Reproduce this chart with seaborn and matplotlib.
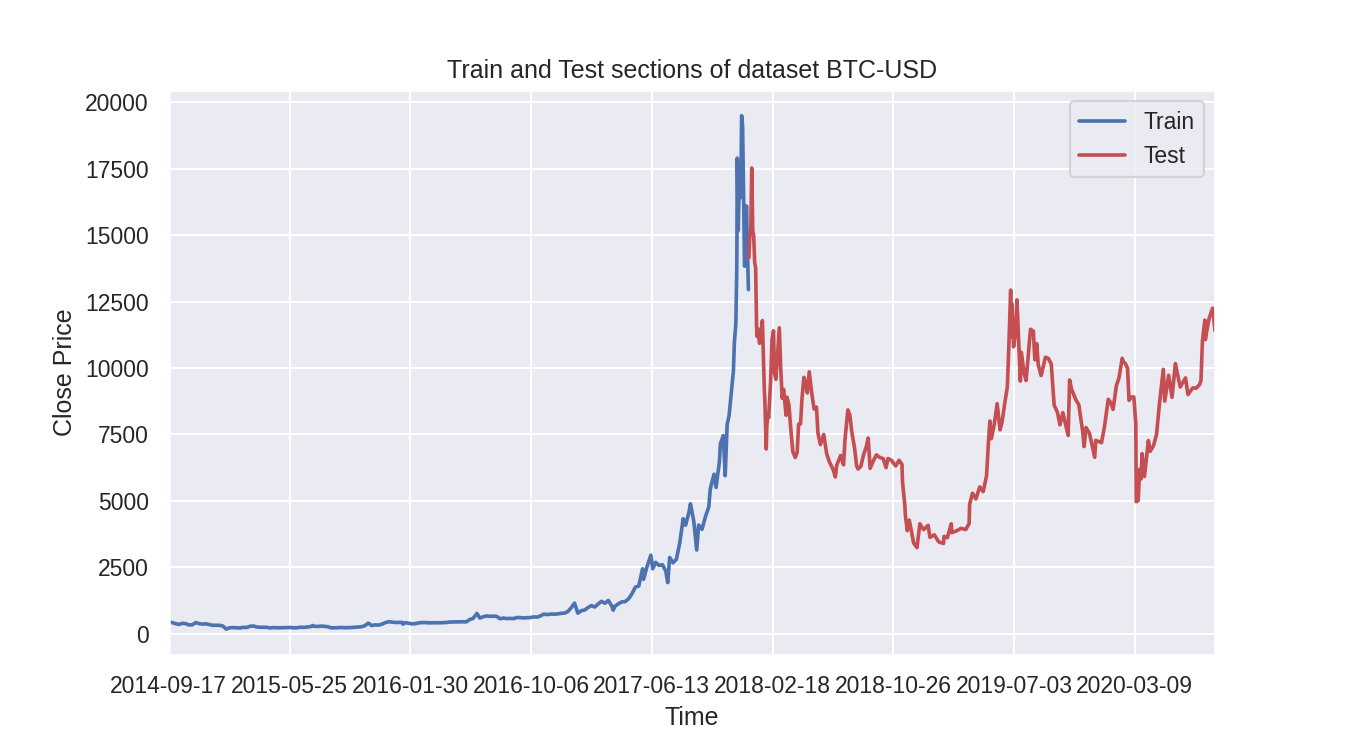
import pandas as pd
import matplotlib
matplotlib.use("Agg")
import matplotlib.pyplot as plt
import seaborn as sns

# Train section
train_dates = [
    "2014-09-17", "2014-09-24", "2014-10-01", "2014-10-08", "2014-10-15", "2014-10-22", "2014-10-29",
    "2014-11-05", "2014-11-12", "2014-11-19", "2014-11-26", "2014-12-03", "2014-12-10", "2014-12-17",
    "2014-12-24", "2014-12-31", "2015-01-07", "2015-01-14", "2015-01-21", "2015-01-28", "2015-02-04",
    "2015-02-11", "2015-02-18", "2015-02-25", "2015-03-04", "2015-03-11", "2015-03-18", "2015-03-25",
    "2015-04-01", "2015-04-08", "2015-04-15", "2015-04-22", "2015-04-29", "2015-05-06", "2015-05-13",
    "2015-05-20", "2015-05-27", "2015-06-03", "2015-06-10", "2015-06-17", "2015-06-24", "2015-07-01",
    "2015-07-08", "2015-07-12", "2015-07-15", "2015-07-22", "2015-07-29", "2015-08-05", "2015-08-12",
    "2015-08-19", "2015-08-26", "2015-09-02", "2015-09-09", "2015-09-16", "2015-09-23", "2015-09-30",
    "2015-10-07", "2015-10-14", "2015-10-21", "2015-10-28", "2015-11-04", "2015-11-11", "2015-11-18",
    "2015-11-25", "2015-12-02", "2015-12-09", "2015-12-16", "2015-12-23", "2015-12-30", "2016-01-06",
    "2016-01-13", "2016-01-15", "2016-01-20", "2016-01-27", "2016-02-03", "2016-02-10", "2016-02-17",
    "2016-02-24", "2016-03-02", "2016-03-09", "2016-03-16", "2016-03-23", "2016-03-30", "2016-04-06",
    "2016-04-13", "2016-04-20", "2016-04-27", "2016-05-04", "2016-05-11", "2016-05-18", "2016-05-25",
    "2016-06-01", "2016-06-08", "2016-06-16", "2016-06-22", "2016-06-29", "2016-07-06", "2016-07-13",
    "2016-07-20", "2016-07-27", "2016-08-03", "2016-08-10", "2016-08-17", "2016-08-24", "2016-08-31",
    "2016-09-07", "2016-09-14", "2016-09-21", "2016-09-28", "2016-10-05", "2016-10-12", "2016-10-19",
    "2016-10-26", "2016-11-02", "2016-11-09", "2016-11-16", "2016-11-23", "2016-11-30", "2016-12-07",
    "2016-12-14", "2016-12-21", "2016-12-28", "2017-01-04", "2017-01-11", "2017-01-18", "2017-01-25",
    "2017-02-01", "2017-02-08", "2017-02-15", "2017-02-22", "2017-03-01", "2017-03-08", "2017-03-15",
    "2017-03-22", "2017-03-25", "2017-03-29", "2017-04-05", "2017-04-12", "2017-04-19", "2017-04-26",
    "2017-05-03", "2017-05-10", "2017-05-17", "2017-05-25", "2017-05-27", "2017-06-03", "2017-06-11",
    "2017-06-15", "2017-06-21", "2017-06-28", "2017-07-05", "2017-07-12", "2017-07-16", "2017-07-20",
    "2017-07-27", "2017-08-03", "2017-08-10", "2017-08-17", "2017-08-22", "2017-08-29", "2017-09-01",
    "2017-09-08", "2017-09-14", "2017-09-18", "2017-09-25", "2017-10-02", "2017-10-09", "2017-10-12",
    "2017-10-16", "2017-10-20", "2017-10-24", "2017-10-31", "2017-11-02", "2017-11-08", "2017-11-12",
    "2017-11-16", "2017-11-20", "2017-11-26", "2017-11-29", "2017-12-01", "2017-12-04", "2017-12-06",
    "2017-12-07", "2017-12-08", "2017-12-09", "2017-12-11", "2017-12-12", "2017-12-13", "2017-12-15",
    "2017-12-16", "2017-12-18", "2017-12-20", "2017-12-22", "2017-12-24", "2017-12-26", "2017-12-28",
    "2017-12-30",
]
train_close = [
    457, 423, 383, 353, 394, 382, 335,
    339, 423, 380, 367, 376, 346, 319,
    322, 320, 294, 178, 228, 233, 227,
    219, 243, 237, 281, 296, 256, 247,
    247, 245, 219, 235, 225, 229, 236,
    234, 237, 225, 229, 248, 241, 258,
    269, 311, 285, 277, 289, 282, 267,
    226, 225, 229, 238, 229, 231, 236,
    246, 253, 266, 304, 403, 311, 335,
    328, 359, 417, 455, 442, 426, 431,
    432, 364, 419, 395, 373, 381, 416,
    423, 423, 412, 416, 418, 412, 422,
    424, 441, 446, 446, 450, 453, 449,
    536, 581, 766, 592, 640, 671, 658,
    665, 655, 567, 592, 573, 580, 573,
    614, 609, 597, 605, 612, 636, 629,
    678, 742, 722, 744, 740, 746, 770,
    778, 834, 976, 1154, 777, 870, 894,
    989, 1061, 1008, 1125, 1222, 1150, 1255,
    1050, 891, 1040, 1132, 1202, 1213, 1318,
    1507, 1756, 1800, 2446, 2052, 2519, 2958,
    2448, 2690, 2573, 2601, 2359, 1929, 2871,
    2671, 2809, 3430, 4331, 4088, 4579, 4892,
    4226, 3154, 4093, 3931, 4403, 4773, 5431,
    5739, 6006, 5505, 6468, 7144, 7459, 5950,
    7871, 8201, 9330, 9888, 10975, 11657, 13750,
    17900, 16570, 15178, 16937, 17415, 16408, 17707,
    19497, 19114, 16624, 13831, 13926, 16099, 14606,
    12952,
]

# Test section
test_dates = [
    "2017-12-31", "2018-01-02", "2018-01-04", "2018-01-06", "2018-01-08", "2018-01-10", "2018-01-12",
    "2018-01-14", "2018-01-16", "2018-01-17", "2018-01-19", "2018-01-22", "2018-01-25", "2018-01-28",
    "2018-02-01", "2018-02-02", "2018-02-05", "2018-02-06", "2018-02-08", "2018-02-10", "2018-02-14",
    "2018-02-17", "2018-02-20", "2018-02-22", "2018-02-25", "2018-03-04", "2018-03-07", "2018-03-10",
    "2018-03-13", "2018-03-18", "2018-03-20", "2018-03-24", "2018-03-27", "2018-04-01", "2018-04-06",
    "2018-04-10", "2018-04-13", "2018-04-17", "2018-04-20", "2018-04-24", "2018-04-28", "2018-05-01",
    "2018-05-05", "2018-05-10", "2018-05-15", "2018-05-20", "2018-05-23", "2018-05-28", "2018-06-04",
    "2018-06-10", "2018-06-15", "2018-06-24", "2018-06-28", "2018-07-01", "2018-07-09", "2018-07-15",
    "2018-07-18", "2018-07-24", "2018-07-28", "2018-08-01", "2018-08-07", "2018-08-11", "2018-08-14",
    "2018-08-20", "2018-08-25", "2018-08-31", "2018-09-04", "2018-09-08", "2018-09-15", "2018-09-21",
    "2018-09-28", "2018-10-05", "2018-10-11", "2018-10-15", "2018-10-22", "2018-10-31", "2018-11-07",
    "2018-11-13", "2018-11-14", "2018-11-19", "2018-11-20", "2018-11-24", "2018-11-25", "2018-11-28",
    "2018-12-03", "2018-12-07", "2018-12-14", "2018-12-20", "2018-12-24", "2018-12-28", "2019-01-06",
    "2019-01-10", "2019-01-19", "2019-01-28", "2019-02-07", "2019-02-08", "2019-02-15", "2019-02-23",
    "2019-02-24", "2019-03-06", "2019-03-15", "2019-03-25", "2019-04-01", "2019-04-02", "2019-04-08",
    "2019-04-15", "2019-04-23", "2019-04-30", "2019-05-07", "2019-05-11", "2019-05-14", "2019-05-17",
    "2019-05-23", "2019-05-29", "2019-06-04", "2019-06-08", "2019-06-15", "2019-06-19", "2019-06-22",
    "2019-06-26", "2019-06-27", "2019-06-29", "2019-07-02", "2019-07-07", "2019-07-09", "2019-07-16",
    "2019-07-18", "2019-07-24", "2019-07-28", "2019-08-03", "2019-08-06", "2019-08-12", "2019-08-15",
    "2019-08-19", "2019-08-22", "2019-08-28", "2019-09-06", "2019-09-12", "2019-09-18", "2019-09-24",
    "2019-10-01", "2019-10-06", "2019-10-12", "2019-10-23", "2019-10-26", "2019-10-30", "2019-11-08",
    "2019-11-14", "2019-11-22", "2019-11-25", "2019-11-29", "2019-12-06", "2019-12-17", "2019-12-19",
    "2019-12-31", "2020-01-06", "2020-01-14", "2020-01-19", "2020-01-24", "2020-01-31", "2020-02-05",
    "2020-02-12", "2020-02-14", "2020-02-18", "2020-02-23", "2020-02-26", "2020-03-02", "2020-03-07",
    "2020-03-11", "2020-03-12", "2020-03-16", "2020-03-19", "2020-03-22", "2020-03-24", "2020-03-29",
    "2020-04-06", "2020-04-10", "2020-04-17", "2020-04-23", "2020-04-29", "2020-05-07", "2020-05-10",
    "2020-05-18", "2020-05-25", "2020-06-01", "2020-06-05", "2020-06-11", "2020-06-22", "2020-06-27",
    "2020-07-07", "2020-07-14", "2020-07-21", "2020-07-24", "2020-07-27", "2020-08-01", "2020-08-02",
    "2020-08-07", "2020-08-10", "2020-08-17", "2020-08-22",
]
test_close = [
    14157, 14982, 15180, 17527, 15170, 14973, 13980,
    13772, 11490, 11188, 11475, 10931, 11296, 11787,
    9170, 8830, 6955, 7754, 8265, 8129, 9494,
    11090, 11403, 9830, 9577, 11513, 9965, 8866,
    9194, 8223, 8908, 8610, 7876, 6844, 6636,
    6840, 7890, 7903, 8865, 9650, 9393, 9067,
    9858, 9081, 8460, 8530, 7557, 7118, 7500,
    6786, 6499, 6153, 5903, 6349, 6712, 6356,
    7315, 8424, 8230, 7606, 6968, 6323, 6200,
    6307, 6710, 7037, 7366, 6225, 6520, 6734,
    6635, 6595, 6253, 6596, 6531, 6318, 6530,
    6371, 5738, 4808, 4452, 3880, 4009, 4278,
    3820, 3419, 3243, 4141, 4017, 3923, 4083,
    3629, 3725, 3458, 3399, 3666, 3618, 4142,
    3810, 3873, 3968, 3924, 4155, 4880, 5288,
    5074, 5528, 5350, 5941, 7209, 8007, 7343,
    7881, 8660, 7673, 7955, 8827, 9273, 10701,
    12932, 11162, 12407, 10801, 11450, 12567, 9509,
    10590, 9787, 9530, 10821, 11460, 11389, 10313,
    10916, 10131, 9716, 10408, 10360, 10157, 8603,
    8323, 7864, 8320, 7466, 9551, 9205, 8804,
    8620, 7627, 7047, 7761, 7548, 6640, 7277,
    7194, 7770, 8824, 8706, 8445, 9351, 9613,
    10367, 10241, 10183, 9987, 8785, 8912, 8909,
    7909, 4970, 5014, 6191, 5830, 6778, 5922,
    7271, 6866, 7096, 7506, 8658, 9952, 8756,
    9729, 8900, 10167, 9800, 9285, 9629, 9003,
    9253, 9243, 9377, 9536, 11030, 11803, 11072,
    11601, 11878, 12254, 11400,
]

tick_labels = ["2014-09-17", "2015-05-25", "2016-01-30", "2016-10-06", "2017-06-13",
               "2018-02-18", "2018-10-26", "2019-07-03", "2020-03-09"]

sns.set_theme(style="darkgrid", context="notebook", color_codes=True)
plt.rcParams["font.family"] = ["Liberation Sans", "DejaVu Sans"]

train = pd.DataFrame({"date": pd.to_datetime(train_dates), "close": train_close})
test = pd.DataFrame({"date": pd.to_datetime(test_dates), "close": test_close})

fig, ax = plt.subplots(figsize=(9, 5), dpi=150)
fig.subplots_adjust(left=0.125, right=0.9, top=0.88, bottom=0.127)

sns.lineplot(data=train, x="date", y="close", color="b", label="Train", lw=1.75, ax=ax)
sns.lineplot(data=test, x="date", y="close", color="r", label="Test", lw=1.75, ax=ax)

ax.set_xlim(pd.Timestamp(train_dates[0]), pd.Timestamp(test_dates[-1]))
ax.set_xticks(pd.to_datetime(tick_labels))
ax.set_xticklabels(tick_labels)
ax.set_title("Train and Test sections of dataset BTC-USD")
ax.set_xlabel("Time")
ax.set_ylabel("Close Price")
ax.legend(loc="upper right")

fig.savefig("out.png", dpi=150)
